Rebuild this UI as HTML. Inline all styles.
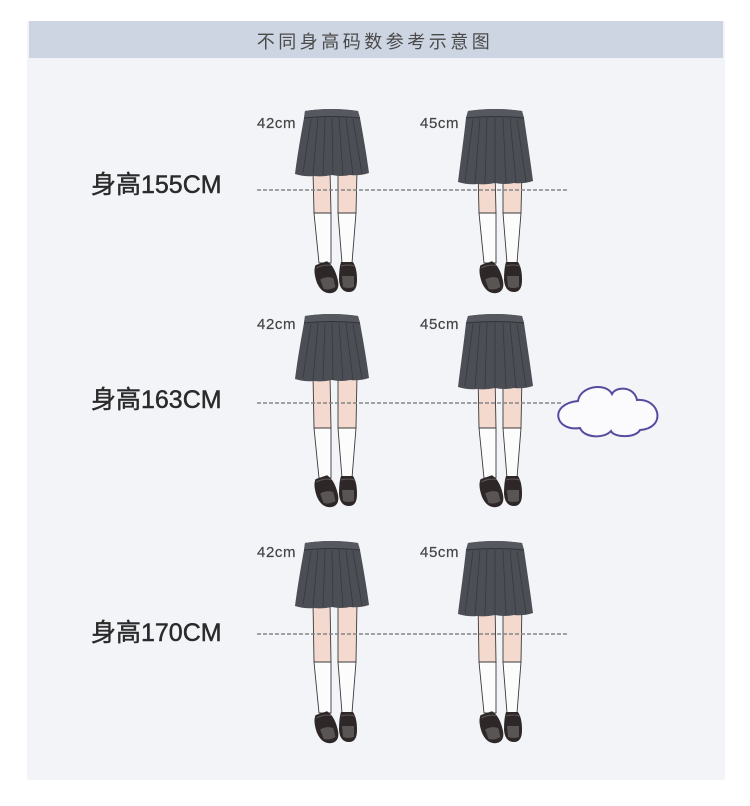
<!DOCTYPE html>
<html>
<head>
<meta charset="utf-8">
<style>
  html,body{margin:0;padding:0;background:#ffffff;}
  body{width:750px;height:806px;overflow:hidden;}
  svg{display:block;}
  .cjk{font-family:"Liberation Sans","Noto Sans CJK SC",sans-serif;}
</style>
</head>
<body>
<svg width="750" height="806" viewBox="0 0 750 806" xmlns="http://www.w3.org/2000/svg">
  <defs>
    <g id="sk42">
      <path d="M305,111 Q331,107 358,111 L360,118 C364,140 367,158 369,173 Q360,176 350,175 Q341,177 332,175 Q323,177 314,176 Q305,177 295,174 C297,158 300,140 304,118 Z" fill="#4b4e54"/>
      <path d="M305,111 Q331,107 358,111 L360,118 Q331,115 304,118 Z" fill="#55585e"/>
      <path d="M304,118 Q331,115 360,118" stroke="#303337" stroke-width="1" fill="none"/>
      <g stroke="#36393e" stroke-width="0.8" fill="none">
        <line x1="311" y1="119" x2="303" y2="173"/>
        <line x1="318" y1="118" x2="313" y2="175"/>
        <line x1="325" y1="118" x2="323" y2="175"/>
        <line x1="332" y1="118" x2="333" y2="175"/>
        <line x1="339" y1="118" x2="343" y2="175"/>
        <line x1="346" y1="118" x2="353" y2="175"/>
        <line x1="353" y1="119" x2="362" y2="174"/>
      </g>
    </g>
    <g id="sk45">
      <path d="M468,111 Q495,107 522,111 L524,118 C528,145 531,165 533,181 Q524,184 514,183 Q505,185 495,183 Q486,185 477,184 Q468,185 458,182 C460,165 463,145 466,118 Z" fill="#4b4e54"/>
      <path d="M468,111 Q495,107 522,111 L524,118 Q495,115 466,118 Z" fill="#55585e"/>
      <path d="M466,118 Q495,115 524,118" stroke="#303337" stroke-width="1" fill="none"/>
      <g stroke="#36393e" stroke-width="0.8" fill="none">
        <line x1="473" y1="119" x2="465" y2="181"/>
        <line x1="480" y1="118" x2="475" y2="183"/>
        <line x1="487" y1="118" x2="485" y2="183"/>
        <line x1="495" y1="118" x2="495" y2="183"/>
        <line x1="503" y1="118" x2="506" y2="183"/>
        <line x1="510" y1="118" x2="516" y2="183"/>
        <line x1="517" y1="119" x2="526" y2="182"/>
      </g>
    </g>
    <g id="shoes">
      <g transform="rotate(-14 326 278)">
        <path d="M319,263 L331,262 Q337,268 337,282 Q337,294 328,294 Q318,293 316,280 Q315,268 319,263 Z" fill="#2e2727"/>
        <path d="M319,266 Q326,264 334,267" stroke="#5e5858" stroke-width="1" fill="none"/>
        <path d="M320,278 Q328,276 333,280 L333,289 Q326,291 321,288 Z" fill="#5a5555"/>
      </g>
      <path d="M341,262 L353,262 Q357,268 357,280 Q357,292 349,292 Q340,292 339,280 Q339,268 341,262 Z" fill="#2e2727"/>
      <path d="M341,266 Q348,264 355,266" stroke="#5e5858" stroke-width="1" fill="none"/>
      <path d="M342,276 L354,276 L354,287 Q348,289 343,287 Z" fill="#5a5555"/>
    </g>
  </defs>

  <rect x="27" y="21" width="698" height="759" fill="#f3f4f8"/>
  <rect x="29" y="21" width="694" height="37" fill="#cdd5e3"/>
  <text x="375" y="48" text-anchor="middle" class="cjk" font-size="18" letter-spacing="3.5" fill="#4a4a4a">不同身高码数参考示意图</text>

  <!-- ROW 1 -->
  <g stroke="#3a3a3a" stroke-width="0.9">
    <g id="legs1">
      <polygon points="313,170 330,170 331,213 314,213" fill="#f4d9cf"/>
      <polygon points="314,213 331,213 331,263 319,263" fill="#fcfcfc"/>
      <polygon points="338,170 357,170 356,213 338,213" fill="#f4d9cf"/>
      <polygon points="338,213 356,213 352,263 342,263" fill="#fcfcfc"/>
    </g>
    <use href="#legs1" transform="translate(165,0)"/>
  </g>
  <use href="#shoes"/>
  <use href="#shoes" transform="translate(165,0)"/>
  <use href="#sk42"/>
  <use href="#sk45"/>

  <!-- ROW 2 -->
  <g stroke="#3a3a3a" stroke-width="0.9">
    <g id="legs2">
      <polygon points="313,375 330,375 331,428 314,428" fill="#f4d9cf"/>
      <polygon points="314,428 331,428 331,478 319,478" fill="#fcfcfc"/>
      <polygon points="338,375 357,375 356,428 338,428" fill="#f4d9cf"/>
      <polygon points="338,428 356,428 352,478 342,478" fill="#fcfcfc"/>
    </g>
    <use href="#legs2" transform="translate(165,0)"/>
  </g>
  <use href="#shoes" transform="translate(0,214)"/>
  <use href="#shoes" transform="translate(165,214)"/>
  <use href="#sk42" transform="translate(0,205)"/>
  <use href="#sk45" transform="translate(0,205)"/>

  <!-- ROW 3 -->
  <g stroke="#3a3a3a" stroke-width="0.9">
    <g id="legs3">
      <polygon points="313,602 330,602 331,662 314,662" fill="#f4d9cf"/>
      <polygon points="314,662 331,662 331,713 319,713" fill="#fcfcfc"/>
      <polygon points="338,602 357,602 356,662 338,662" fill="#f4d9cf"/>
      <polygon points="338,662 356,662 352,713 342,713" fill="#fcfcfc"/>
    </g>
    <use href="#legs3" transform="translate(165,0)"/>
  </g>
  <use href="#shoes" transform="translate(0,450)"/>
  <use href="#shoes" transform="translate(165,450)"/>
  <use href="#sk42" transform="translate(0,432)"/>
  <use href="#sk45" transform="translate(0,432)"/>

  <g stroke="#858585" stroke-width="1.6" stroke-dasharray="4 2" fill="none">
    <line x1="257" y1="190" x2="568" y2="190"/>
    <line x1="257" y1="403" x2="562" y2="403"/>
    <line x1="257" y1="634" x2="568" y2="634"/>
  </g>

  <path d="M578,401 C580,386 606,382 612,394 C616,386 634,386 637,400 C660,398 667,428 640,430 C636,438 614,438 611,431 C604,439 584,438 580,428 C555,432 548,404 578,401 Z" fill="#fbfbfe" stroke="#564c9f" stroke-width="2"/>

  <g font-family="Liberation Sans, sans-serif" font-size="15" letter-spacing="0.6" fill="#444" stroke="#444" stroke-width="0.2">
    <text x="257" y="128">42cm</text>
    <text x="420" y="128">45cm</text>
    <text x="257" y="329">42cm</text>
    <text x="420" y="329">45cm</text>
    <text x="257" y="557">42cm</text>
    <text x="420" y="557">45cm</text>
  </g>

  <g class="cjk" font-size="25" fill="#2a2a2a" stroke="#2a2a2a" stroke-width="0.45">
    <text x="91" y="193">身高155CM</text>
    <text x="91" y="408">身高163CM</text>
    <text x="91" y="641">身高170CM</text>
  </g>
</svg>
</body>
</html>
